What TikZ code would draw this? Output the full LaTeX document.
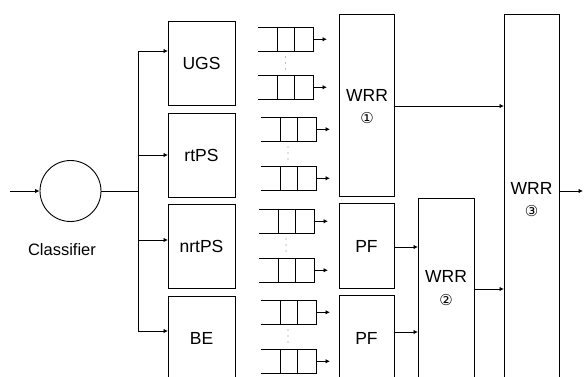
\documentclass[tikz,border=0pt]{standalone}
\usepackage{fontspec}
\setmainfont{Liberation Sans}
\newfontfamily\symfont{DejaVu Sans}
\usetikzlibrary{arrows.meta}
\begin{document}
\begin{tikzpicture}[x=1pt,y=-1pt,
  ln/.style={line width=0.9pt},
  arr/.style={ln,-{Latex[length=4.5pt,width=4.5pt]}},
  blk/.style={draw,ln,rectangle,anchor=north west,inner sep=0pt},
  lbl/.style={font=\fontsize{17.5}{19}\selectfont},
  circ/.style={font=\symfont\fontsize{15}{17}\selectfont}]
\useasboundingbox (0,0) rectangle (584,376);
\clip (0,0) rectangle (584,376);
% input and classifier
\coordinate (in) at (10,191);
\node[draw,ln,circle,minimum size=61pt,inner sep=0pt] (cls) at (70.5,191) {};
\node[font=\fontsize{16.5}{18}\selectfont] (clsl) at (62,250) {Classifier};
\draw[arr] (in) -- (cls.west);
\coordinate (bus) at (138,191);
\draw[ln] (cls.east) -- (bus);
% class boxes
\node[blk,minimum width=67pt,minimum height=84pt] (ugs) at (168,21) {};
\node[blk,minimum width=67pt,minimum height=84pt] (rtps) at (168,112.5) {};
\node[blk,minimum width=67pt,minimum height=84pt] (nrtps) at (168,204) {};
\node[blk,minimum width=67pt,minimum height=100pt] (be) at (168,296) {};
\node[lbl] at (201.5,63) {UGS};
\node[lbl] at (201.5,155) {rtPS};
\node[lbl] at (201.5,246) {nrtPS};
\node[lbl] at (201.5,338) {BE};
\coordinate (bt) at (138,51);
\coordinate (bb) at (138,331);
\draw[ln] (bt) -- (bb);
\draw[arr] (bt) -- (ugs.west |- bt);
\draw[arr] (138,155) -- (rtps.west |- 0,155);
\draw[arr] (138,240) -- (nrtps.west |- 0,240);
\draw[arr] (bb) -- (be.west |- bb);
% queues
\foreach \x/\y [count=\i] in {258/27,258/75,261/117,261/166,259/209,259/258,261/300,261/349}{
  \draw[ln] (\x,\y) -- (\x+55,\y) -- (\x+55,\y+24.5) -- (\x,\y+24.5);
  \draw[ln] (\x+19,\y) -- (\x+19,\y+24.5);
  \draw[ln] (\x+36,\y) -- (\x+36,\y+24.5);
  \coordinate (q\i) at (\x+55,\y+12.25);
  \draw[arr] (q\i) -- ++(14,0);
}
\foreach \x/\y in {285.5/57,288/147,286/239,288/330}{
  \foreach \d in {0,6,12} \fill[gray] (\x,\y+\d) circle (0.6pt);
}
% schedulers
\node[blk,minimum width=55pt,minimum height=182pt] (w1) at (339,14) {};
\node[lbl] at (367,95) {WRR};
\node[circ] at (367,118) {①};
\node[blk,minimum width=55pt,minimum height=85pt] (pf1) at (339,203) {};
\node[lbl] at (366.5,246) {PF};
\node[blk,minimum width=55pt,minimum height=100pt] (pf2) at (339,295) {};
\node[lbl] at (366.5,338) {PF};
\node[blk,minimum width=56pt,minimum height=200pt] (w2) at (418,198) {};
\node[lbl] at (446,276) {WRR};
\node[circ] at (446,300) {②};
\node[blk,minimum width=55pt,minimum height=380pt] (w3) at (504,14) {};
\node[lbl] at (531.5,188) {WRR};
\node[circ] at (531.5,211) {③};
\coordinate (out) at (583,191);
\draw[arr] (w1.east |- 0,106) -- (w3.west |- 0,106);
\draw[arr] (pf1.east |- 0,247) -- (w2.west |- 0,247);
\draw[arr] (pf2.east |- 0,332) -- (w2.west |- 0,332);
\draw[arr] (w2.east |- 0,289) -- (w3.west |- 0,289);
\draw[arr] (w3.east |- out) -- (out);
\end{tikzpicture}
\end{document}
